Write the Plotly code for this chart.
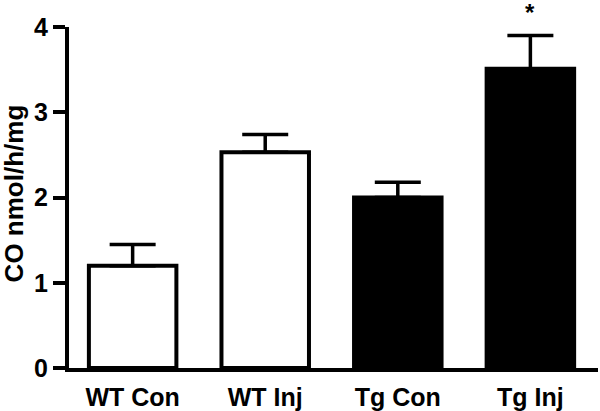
import plotly.graph_objects as go

categories = ["WT Con", "WT Inj", "Tg Con", "Tg Inj"]
values = [1.20, 2.53, 2.00, 3.51]
errors = [0.25, 0.21, 0.18, 0.39]
fill_colors = ["white", "white", "black", "black"]
y_ticks = [0, 1, 2, 3, 4]
significance = ["", "", "", "*"]

FONT = "Liberation Sans, Arial, sans-serif"

fig = go.Figure()
fig.add_trace(go.Bar(
    x=categories, y=values,
    width=0.66,
    marker=dict(color=fill_colors, line=dict(color="black", width=4)),
    error_y=dict(type="data", array=errors, arrayminus=[0] * len(errors),
                 symmetric=False, color="black", thickness=3.5, width=23),
))

for cat, v, e, s in zip(categories, values, errors, significance):
    if s:
        fig.add_annotation(x=cat, y=v + e, text=s, showarrow=False,
                           yanchor="bottom", yshift=8,
                           font=dict(family=FONT, size=24, color="black", weight="bold"))

fig.add_annotation(xref="paper", yref="paper", x=-0.104, y=0.512,
                   text="CO nmol/h/mg", textangle=-90, showarrow=False,
                   xanchor="center", yanchor="middle",
                   font=dict(family=FONT, size=26, color="black", weight="bold"))

fig.update_layout(
    width=600, height=411,
    margin=dict(l=69, r=2, t=27, b=43),
    paper_bgcolor="white", plot_bgcolor="white",
    showlegend=False,
)
fig.update_xaxes(
    range=[-0.48, 3.51], showline=True, linecolor="black", linewidth=4,
    ticks="", showgrid=False, zeroline=False, automargin=False,
    ticklabelstandoff=4,
    tickfont=dict(family=FONT, size=25, color="black", weight="bold"),
)
fig.update_yaxes(
    range=[0, 4], tickvals=y_ticks, showline=True, linecolor="black", linewidth=4,
    ticks="outside", ticklen=12, tickwidth=4, tickcolor="black",
    showgrid=False, zeroline=False, ticklabelstandoff=0, automargin=False,
    tickfont=dict(family=FONT, size=25, color="black", weight="bold"),
)

fig.write_html("out.html", config={"displayModeBar": False},
               post_script="document.body.style.margin='0';")
